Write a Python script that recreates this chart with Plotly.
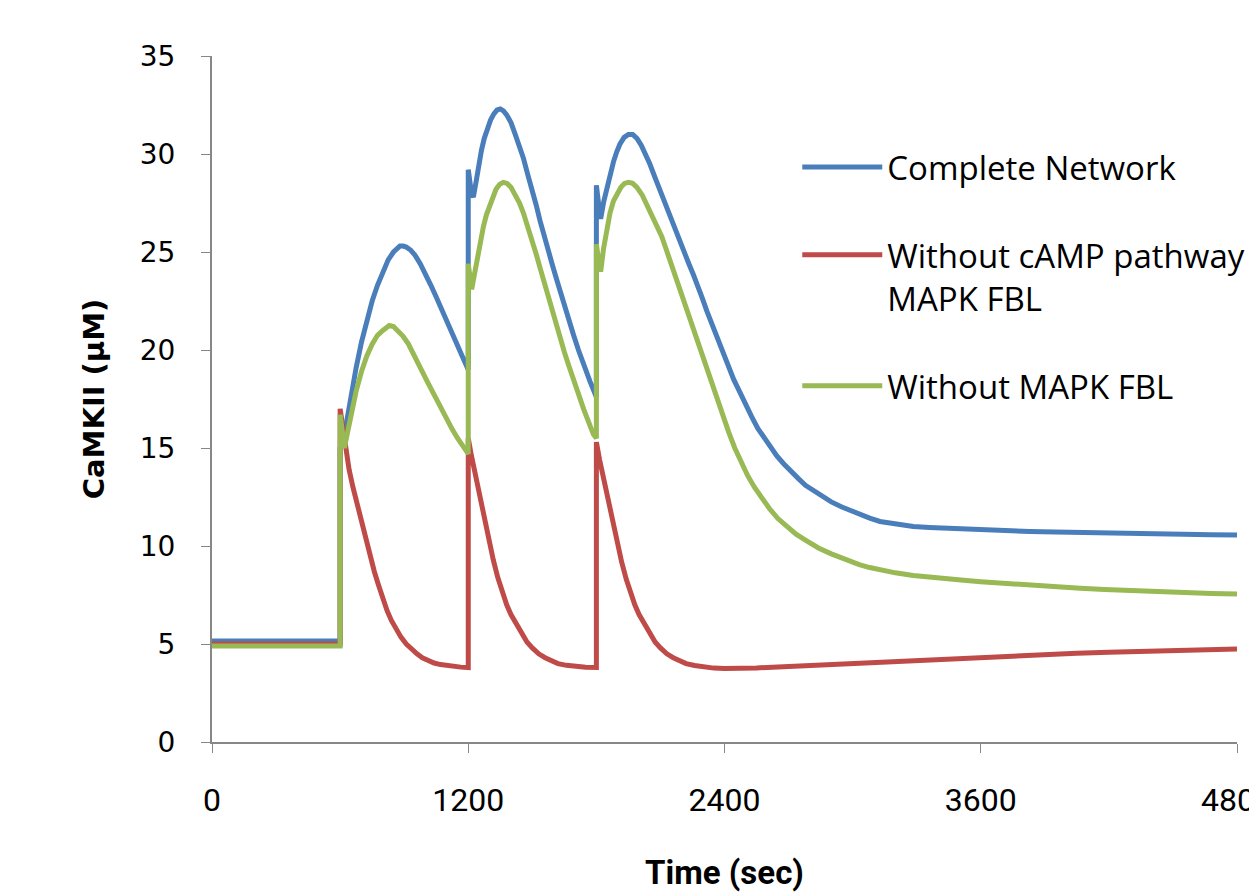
import plotly.graph_objects as go

# ---------------- data ----------------
complete_t = [0, 600,
              600, 615, 630, 650, 675, 700, 725, 750, 775, 800, 825, 850, 865, 880, 895, 910, 930, 950, 975,
              1000, 1025, 1050, 1075, 1100, 1125, 1150, 1175, 1200,
              1200, 1215, 1224, 1237, 1250, 1262, 1275, 1290, 1305, 1320, 1335, 1350, 1365, 1380, 1400, 1420,
              1440, 1458, 1480, 1500, 1518, 1536, 1555, 1575, 1595, 1614, 1632, 1650, 1671, 1692, 1716, 1740,
              1770, 1800,
              1800, 1810, 1820, 1835, 1850, 1865, 1880, 1895, 1910, 1930, 1950, 1970, 1990, 2010, 2030, 2050,
              2078, 2106, 2128, 2150, 2170, 2191, 2212, 2233, 2254, 2275, 2296, 2317, 2338, 2359, 2380, 2400,
              2420, 2443, 2465, 2485, 2505, 2527, 2556, 2586, 2615, 2645, 2677, 2710, 2745, 2779, 2820, 2860,
              2900, 2947, 2990, 3030, 3080, 3128, 3200, 3284, 3360, 3450, 3520, 3600, 3700, 3830, 3950, 4066,
              4180, 4300, 4420, 4550, 4680, 4800]
complete_v = [5.15, 5.15,
              15.0, 15.3, 16.3, 17.6, 19.1, 20.4, 21.5, 22.5, 23.3, 24.0, 24.6, 25.0, 25.2, 25.3, 25.3, 25.25,
              25.1, 24.85, 24.4, 23.9, 23.3, 22.7, 22.05, 21.4, 20.8, 20.2, 19.6, 19.0,
              29.2, 28.0, 27.8, 28.6, 29.5, 30.2, 30.8, 31.3, 31.75, 32.05, 32.25, 32.3, 32.2, 32.0, 31.6, 31.0,
              30.4, 29.8, 28.9, 28.2, 27.4, 26.6, 25.8, 25.1, 24.3, 23.6, 22.9, 22.2, 21.5, 20.8, 20.0, 19.2,
              18.4, 17.6,
              28.4, 27.5, 26.7, 27.6, 28.3, 29.0, 29.6, 30.1, 30.5, 30.85, 31.0, 31.0, 30.8, 30.45, 30.0, 29.5,
              28.7, 27.9, 27.25, 26.6, 26.05, 25.5, 24.95, 24.4, 23.85, 23.3, 22.65, 22.0, 21.4, 20.8, 20.2, 19.6,
              19.05, 18.5, 18.0, 17.5, 17.05, 16.6, 16.0, 15.5, 15.05, 14.6, 14.2, 13.8, 13.45, 13.1, 12.8, 12.5,
              12.25, 12.0, 11.8, 11.6, 11.42, 11.25, 11.12, 11.0, 10.95, 10.9, 10.86, 10.82, 10.78, 10.74, 10.71,
              10.68, 10.65, 10.62, 10.6, 10.58, 10.57, 10.56]

no_camp_t = [0, 600,
             600, 612, 625, 642, 660, 680, 700, 720, 740, 760, 780, 800, 820, 840, 860, 885, 910, 935, 960, 985,
             1010, 1040, 1070, 1100, 1130, 1165, 1200,
             1200, 1215, 1230, 1250, 1270, 1293, 1317, 1338, 1360, 1380, 1400, 1425, 1450, 1475, 1500, 1530,
             1560, 1590, 1620, 1660, 1700, 1750, 1800,
             1800, 1815, 1830, 1850, 1870, 1894, 1918, 1940, 1960, 1980, 2000, 2025, 2050, 2075, 2100, 2130,
             2160, 2190, 2220, 2260, 2300, 2350, 2400, 2475, 2550, 2650, 2750, 2875, 3000, 3150, 3300, 3450,
             3600, 3750, 3900, 4050, 4200, 4350, 4500, 4650, 4800]
no_camp_v = [5.0, 5.0,
             17.0, 16.0, 15.0, 13.9, 13.0, 12.1, 11.2, 10.3, 9.4, 8.7, 8.0, 7.3, 6.7, 6.2, 5.8, 5.35, 5.0, 4.72,
             4.5, 4.3, 4.15, 4.03, 3.95, 3.89, 3.85, 3.82, 3.8,
             15.5, 14.6, 13.8, 12.8, 11.8, 10.5, 9.3, 8.4, 7.6, 7.0, 6.5, 6.0, 5.5, 5.1, 4.8, 4.5,
             4.3, 4.13, 4.0, 3.91, 3.85, 3.82, 3.8,
             15.3, 14.4, 13.6, 12.6, 11.6, 10.3, 9.2, 8.3, 7.6, 7.0, 6.5, 6.0, 5.5, 5.1, 4.8, 4.5,
             4.3, 4.13, 4.0, 3.9, 3.82, 3.77, 3.75, 3.75, 3.78, 3.83, 3.88, 3.94, 4.0, 4.09, 4.18, 4.27,
             4.35, 4.42, 4.48, 4.53, 4.58, 4.63, 4.67, 4.71, 4.74]

no_mapk_t = [0, 600,
             600, 610, 620, 635, 650, 675, 700, 725, 750, 775, 800, 815, 830, 850, 870, 895, 920, 950, 980,
             1010, 1040, 1070, 1100, 1125, 1150, 1175, 1200,
             1200, 1208, 1216, 1228, 1240, 1255, 1271, 1285, 1300, 1315, 1330, 1347, 1364, 1382, 1400, 1420,
             1440, 1458, 1480, 1500, 1518, 1536, 1555, 1575, 1595, 1614, 1632, 1650, 1671, 1692, 1716, 1740,
             1763, 1786, 1800,
             1800, 1810, 1820, 1834, 1848, 1864, 1880, 1897, 1915, 1932, 1950, 1970, 1990, 2015, 2040, 2073,
             2106, 2128, 2150, 2178, 2207, 2240, 2275, 2296, 2317, 2338, 2359, 2390, 2420, 2448, 2476, 2508,
             2540, 2575, 2611, 2650, 2690, 2735, 2779, 2840, 2900, 2965, 3031, 3080, 3128, 3200, 3284, 3360,
             3450, 3520, 3600, 3700, 3830, 3950, 4066, 4180, 4300, 4420, 4550, 4680, 4800]
no_mapk_v = [4.9, 4.9,
             16.7, 15.7, 15.0, 15.8, 16.6, 17.9, 18.9, 19.7, 20.3, 20.75, 21.0, 21.15, 21.25, 21.2, 21.0, 20.7,
             20.3, 19.7, 19.0, 18.35, 17.7, 17.05, 16.4, 15.95, 15.5, 15.1, 14.7,
             24.4, 23.6, 23.1, 23.8, 24.6, 25.5, 26.3, 26.9, 27.4, 27.85, 28.2, 28.45, 28.55, 28.5, 28.3, 27.9,
             27.5, 27.0, 26.3, 25.6, 24.9, 24.2, 23.45, 22.7, 21.95, 21.2, 20.55, 19.9, 19.2, 18.5, 17.75, 17.0,
             16.35, 15.7, 15.5,
             25.4, 24.6, 24.0, 25.2, 26.2, 27.0, 27.6, 28.0, 28.3, 28.5, 28.55, 28.5, 28.3, 27.9, 27.3, 26.6,
             25.8, 25.1, 24.4, 23.5, 22.6, 21.5, 20.4, 19.7, 19.0, 18.3, 17.6, 16.6, 15.8, 15.0, 14.3, 13.6,
             13.0, 12.4, 11.9, 11.4, 11.0, 10.6, 10.3, 9.9, 9.6, 9.3, 9.05, 8.9, 8.78, 8.63, 8.5, 8.4,
             8.32, 8.25, 8.18, 8.1, 8.0, 7.92, 7.84, 7.78, 7.72, 7.67, 7.62, 7.58, 7.55]

x_ticks = [0, 1200, 2400, 3600, 4800]
y_ticks = [0, 5, 10, 15, 20, 25, 30, 35]

names = ["Complete Network", "Without cAMP pathway and<br>MAPK FBL", "Without MAPK FBL"]
colors = ["#4A7EBB", "#BE4B48", "#98B954"]

# ---------------- figure ----------------
fig = go.Figure()
series = [(complete_t, complete_v), (no_camp_t, no_camp_v), (no_mapk_t, no_mapk_v)]
for i, ((t, v), name, col) in enumerate(zip(series, names, colors)):
    fig.add_trace(go.Scatter(x=t, y=v, mode="lines", name=name, legendgroup=str(i),
                             line=dict(color=col, width=5)))

axis_col = "#878787"
# The reference is a crop of a wider chart (legend text and last tick label are cut at the
# right edge); the figure is made wider than the window so the same crop happens.
# The page body has an 8px default margin, so the margins are offset to compensate.
fig.update_layout(
    width=1400, height=884,
    margin=dict(l=204, r=171, t=48, b=150),
    paper_bgcolor="white", plot_bgcolor="white",
    font=dict(family="Roboto, sans-serif", color="black"),
    showlegend=True,
    legend=dict(x=0.571, y=0.879, xanchor="left", yanchor="top",
                font=dict(family="Open Sans, sans-serif", size=33, color="black"),
                traceorder="grouped", tracegroupgap=42, itemwidth=80, valign="top",
                bgcolor="rgba(0,0,0,0)"),
    xaxis=dict(range=[0, 4800], tickvals=x_ticks, ticktext=[str(v) for v in x_ticks],
               automargin=False,
               showgrid=False, zeroline=False, showline=True, linecolor=axis_col, linewidth=2,
               ticks="outside", ticklen=9, tickcolor=axis_col, tickwidth=1,
               tickfont=dict(family="Roboto, sans-serif", size=32),
               ticklabelstandoff=20,
               title=dict(text="<b>Time (sec)</b>", standoff=49,
                          font=dict(family="Roboto, sans-serif", size=33))),
    yaxis=dict(range=[0, 35], tickvals=y_ticks, ticktext=[str(v) for v in y_ticks],
               automargin=False,
               showgrid=False, zeroline=False, showline=True, linecolor=axis_col, linewidth=2,
               ticks="outside", ticklen=9, tickcolor=axis_col, tickwidth=1,
               tickfont=dict(family="DejaVu Sans, sans-serif", size=28),
               ticklabelstandoff=20,
               title=dict(text="<b>CaMKII (µM)</b>", standoff=27,
                          font=dict(family="DejaVu Sans, sans-serif", size=29))),
)

fig.write_html("out.html")
